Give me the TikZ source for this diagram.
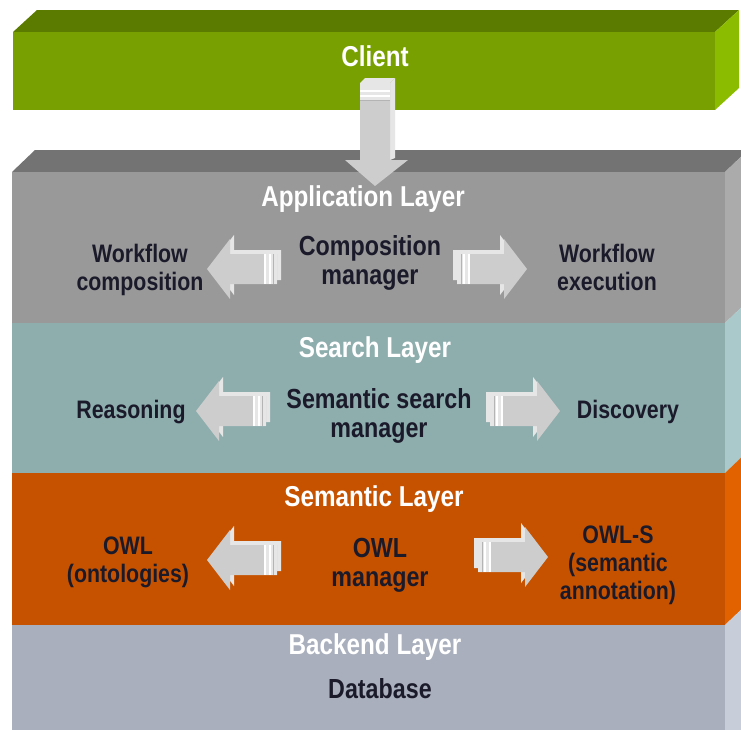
\documentclass[tikz,border=0pt]{standalone}
\usepackage{fontspec}
\usepackage{graphicx}
\setmainfont{Liberation Sans}
\definecolor{cfront}{HTML}{78A000}
\definecolor{ctop}{HTML}{5A7A00}
\definecolor{cside}{HTML}{8CBC00}
\definecolor{afront}{HTML}{999999}
\definecolor{atop}{HTML}{737373}
\definecolor{aside}{HTML}{ABABAB}
\definecolor{sfront}{HTML}{8EADAD}
\definecolor{sside}{HTML}{A9C9CB}
\definecolor{mfront}{HTML}{C65200}
\definecolor{mside}{HTML}{E26200}
\definecolor{bfront}{HTML}{A9AFBD}
\definecolor{bside}{HTML}{C8CDDA}
\definecolor{txt}{HTML}{1A1A2A}
\definecolor{arrface}{HTML}{CDCDCD}
\definecolor{arrlight}{HTML}{E6E6E6}
\definecolor{arrdark}{HTML}{B4B4B4}
\newcommand{\tallt}[1]{\scalebox{0.97}[1.15]{\begin{tabular}{@{}c@{}}#1\end{tabular}}}
\begin{document}
\begin{tikzpicture}[x=1pt,y=-1pt,
  lab/.style={font=\bfseries\fontsize{22}{24}\selectfont, text=txt, inner sep=0pt},
  mid/.style={font=\bfseries\fontsize{24}{26}\selectfont, text=txt, inner sep=0pt},
  ttl/.style={font=\bfseries\fontsize{25}{27}\selectfont, text=white, inner sep=0pt},
  larrow/.pic={
    \fill[arrlight,shift={(4,-4)}] (0,0) -- (23,-30) -- (23,-15) -- (70,-15) -- (70,15) -- (23,15) -- (23,30) -- cycle;
    \fill[arrface] (0,0) -- (23,-30) -- (23,-15) -- (70,-15) -- (70,15) -- (23,15) -- (23,30) -- cycle;
    \fill[arrlight] (57,-15) rectangle (70,15);
    \draw[white,line width=1.2pt] (58,-15) -- (58,15) (63,-15) -- (63,15);
    \draw[arrdark,line width=0.8pt] (66,-15) -- (66,15);
  }]
\useasboundingbox (0,0) rectangle (741,729);
\clip (0,0) rectangle (741,729);
\fill[white] (0,0) rectangle (741,729);
% Client slab
\fill[ctop] (13,32) -- (37,10) -- (739,10) -- (715,32) -- cycle;
\fill[cside] (715,32) -- (739,10) -- (739,88) -- (715,110) -- cycle;
\fill[cfront] (13,32) rectangle (715,110);
% Layer stack
\fill[atop] (12,172) -- (35,150) -- (748,150) -- (725,172) -- cycle;
\fill[aside] (725,172) -- (748,150) -- (748,301) -- (725,323) -- cycle;
\fill[afront] (12,172) rectangle (725,323);
\fill[sside] (725,323) -- (748,301) -- (748,451) -- (725,473) -- cycle;
\fill[sfront] (12,323) rectangle (725,473);
\fill[mside] (725,473) -- (748,451) -- (748,603) -- (725,625) -- cycle;
\fill[mfront] (12,473) rectangle (725,625);
\fill[bside] (725,625) -- (748,603) -- (748,740) -- (725,740) -- cycle;
\fill[bfront] (12,625) rectangle (725,740);
% Down arrow from client
\fill[arrlight] (390,83) -- (395,78) -- (395,158) -- (390,160) -- cycle;
\fill[arrlight] (360,83) -- (365,78) -- (395,78) -- (390,83) -- cycle;
\fill[arrface] (360,83) -- (390,83) -- (390,160) -- (408,160) -- (375,186) -- (345,160) -- (360,160) -- cycle;
\fill[arrlight] (360,83) rectangle (390,100);
\draw[white,line width=1.2pt] (360,91) -- (390,91) (360,96) -- (390,96);
\draw[arrdark,line width=0.8pt] (360,100) -- (390,100);
% Texts
\node[ttl] (client) at (375,60) {\tallt{Client}};
\node[ttl] (app) at (363,200) {\tallt{Application Layer}};
\node[lab] (wfc) at (140,271) {\tallt{Workflow\\composition}};
\node[mid] (cm) at (370,264) {\tallt{Composition\\manager}};
\node[lab] (wfe) at (607,271) {\tallt{Workflow\\execution}};
\node[ttl] (search) at (375,351) {\tallt{Search Layer}};
\node[lab] (reas) at (131,413) {\tallt{Reasoning}};
\node[mid] (ssm) at (379,417) {\tallt{Semantic search\\manager}};
\node[lab] (disc) at (628,413) {\tallt{Discovery}};
\node[ttl] (sem) at (374,500) {\tallt{Semantic Layer}};
\node[lab] (owl) at (128,563) {\tallt{OWL\\(ontologies)}};
\node[mid] (owlm) at (380,566) {\tallt{OWL\\manager}};
\node[lab] (owls) at (618,566) {\tallt{OWL-S\\(semantic\\annotation)}};
\node[ttl] (back) at (375,648) {\tallt{Backend Layer}};
\node[mid] (db) at (380,693) {\tallt{Database}};
% Block arrows
\pic at (207,269) {larrow};
\pic[xscale=-1] at (527,269) {larrow};
\pic at (196,411) {larrow};
\pic[xscale=-1] at (560,411) {larrow};
\pic at (207,560) {larrow};
\pic[xscale=-1] at (548,557) {larrow};
\end{tikzpicture}
\end{document}
